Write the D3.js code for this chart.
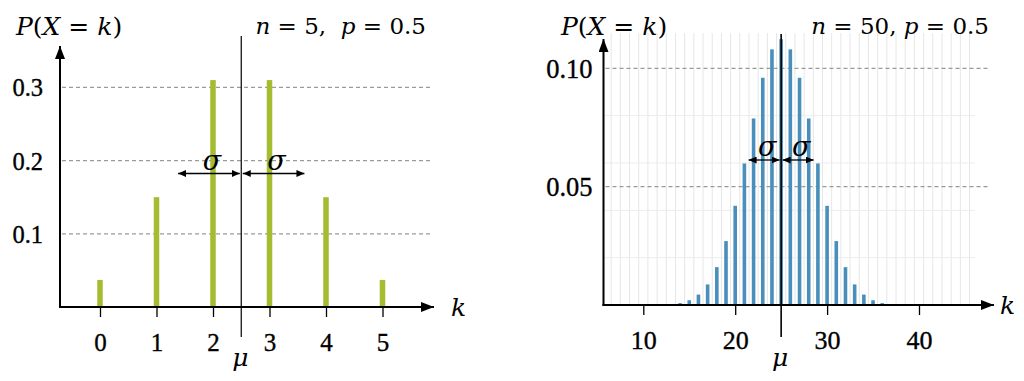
<!DOCTYPE html>
<html>
<head>
<meta charset="utf-8">
<script src="https://cdn.jsdelivr.net/npm/d3@7"></script>
<style>
  html, body { margin: 0; padding: 0; background: #fff; }
  svg { display: block; }
  .num { font-family: "Liberation Serif", serif; fill: #000; stroke: #000; stroke-width: 0.35px; }
  .math { font-family: "DejaVu Serif", serif; fill: #000; white-space: pre; }
</style>
</head>
<body>
<svg id="chart" width="1024" height="381"></svg>
<script>
// ---- data ----
const kLeft = [0, 1, 2, 3, 4, 5];
const pLeft = [0.037, 0.15, 0.31, 0.31, 0.15, 0.037];
const kRight = [12, 13, 14, 15, 16, 17, 18, 19, 20, 21, 22, 23, 24, 25, 26, 27, 28, 29, 30, 31, 32, 33, 34, 35, 36, 37, 38];
const pRight = [0.0001, 0.0003, 0.0008, 0.0020, 0.0044, 0.0087, 0.0160, 0.0270, 0.0419, 0.0598, 0.0788, 0.0960, 0.1080, 0.1123,
                0.1080, 0.0960, 0.0788, 0.0598, 0.0419, 0.0270, 0.0160, 0.0087, 0.0044, 0.0020, 0.0008, 0.0003, 0.0001];
const xTicksLeft = [0, 1, 2, 3, 4, 5];
const yTicksLeft = [0.1, 0.2, 0.3];
const xTicksRight = [10, 20, 30, 40];
const yTicksRight = [0.05, 0.10];
const minorYRight = [0.02, 0.04, 0.06, 0.08];
const minorXRight = d3.range(6.5, 46, 1);
const muLeft = 2.5, sigmaLeft = 1.118;
const muRight = 25, sigmaRight = 3.536;

const svg = d3.select("#chart");

// arrow markers
const defs = svg.append("defs");
function marker(id, w, h) {
  defs.append("marker").attr("id", id).attr("viewBox", `0 0 ${w} ${h}`)
    .attr("refX", w).attr("refY", h / 2).attr("markerWidth", w).attr("markerHeight", h)
    .attr("markerUnits", "userSpaceOnUse").attr("orient", "auto-start-reverse")
    .append("path").attr("d", `M0,0L${w},${h/2}L0,${h}Z`).attr("fill", "#000");
}
marker("bigArrow", 13, 10);
marker("smallArrow", 8, 7);

function mathText(g, x, y, parts, size, anchor) {
  const t = g.append("text").attr("class", "math").attr("x", x).attr("y", y)
    .attr("font-size", size).attr("text-anchor", anchor || "start")
    .attr("xml:space", "preserve");
  parts.forEach(p => {
    t.append("tspan").attr("font-style", p[1] ? "italic" : "normal").text(p[0]);
  });
  return t;
}

function panel(cfg) {
  const g = svg.append("g");
  const x = d3.scaleLinear().domain(cfg.xDomain).range(cfg.xRange);
  const y = d3.scaleLinear().domain(cfg.yDomain).range(cfg.yRange);
  const x0 = cfg.axisX, y0 = y(0);

  // minor grid
  if (cfg.minorX) {
    g.append("g").selectAll("line").data(cfg.minorX).join("line")
      .attr("x1", d => x(d)).attr("x2", d => x(d))
      .attr("y1", cfg.gridTop).attr("y2", y0)
      .attr("stroke", "#e6e6e6").attr("stroke-width", 1);
    g.append("g").selectAll("line").data(cfg.minorY).join("line")
      .attr("x1", x0).attr("x2", cfg.gridRight)
      .attr("y1", d => y(d)).attr("y2", d => y(d))
      .attr("stroke", "#ececec").attr("stroke-width", 1);
  }
  // dashed major grid
  g.append("g").selectAll("line").data(cfg.yTicks).join("line")
    .attr("x1", x0 + 2).attr("x2", cfg.dashRight)
    .attr("y1", d => y(d)).attr("y2", d => y(d))
    .attr("stroke", "#9a9a9a").attr("stroke-width", 1.2).attr("stroke-dasharray", "4,3");

  // bars
  g.append("g").selectAll("rect").data(cfg.k).join("rect")
    .attr("x", d => x(d) - cfg.barW / 2).attr("width", cfg.barW)
    .attr("y", (d, i) => y(cfg.p[i])).attr("height", (d, i) => y0 - y(cfg.p[i]))
    .attr("fill", cfg.color);

  // x axis ticks + labels
  const xa = g.append("g").attr("transform", `translate(0,${y0})`)
    .call(d3.axisBottom(x).tickValues(cfg.xTicks).tickSize(10).tickFormat(d3.format("d")));
  xa.select(".domain").remove();
  xa.selectAll(".tick line").attr("stroke", "#000").attr("stroke-width", 1.3);
  xa.selectAll(".tick text").attr("class", "num").attr("font-size", cfg.xFont)
    .attr("y", cfg.xLabelY - y0).attr("dy", "0.35em").attr("fill", "#000");

  // y axis labels
  const ya = g.append("g").attr("transform", `translate(${x0},0)`)
    .call(d3.axisLeft(y).tickValues(cfg.yTicks).tickSize(0).tickPadding(cfg.yPad).tickFormat(cfg.yFmt));
  ya.select(".domain").remove();
  ya.selectAll(".tick text").attr("class", "num").attr("font-size", cfg.yFont)
    .attr("dy", "0.35em").attr("fill", "#000");

  // mu line
  g.append("line").attr("x1", x(cfg.mu)).attr("x2", x(cfg.mu))
    .attr("y1", cfg.muTop).attr("y2", 337).attr("stroke", "#000").attr("stroke-width", cfg.muW);
  mathText(g, x(cfg.mu) - 1, 357, [["μ", true]], 25, "middle").attr("dy", "0.35em");

  // axes
  g.append("line").attr("x1", x0).attr("x2", x0).attr("y1", y0 + 1).attr("y2", cfg.yTip)
    .attr("stroke", "#000").attr("stroke-width", 2).attr("marker-end", "url(#bigArrow)");
  g.append("line").attr("x1", x0 - 1).attr("x2", cfg.xTip).attr("y1", y0).attr("y2", y0)
    .attr("stroke", "#000").attr("stroke-width", 2).attr("marker-end", "url(#bigArrow)");

  // sigma arrows
  const xm = x(cfg.mu);
  [[-1, xm - 1.5], [1, xm + 1.5]].forEach(([s, start]) => {
    const end = x(cfg.mu + s * cfg.sigma);
    g.append("line").attr("x1", start).attr("x2", end).attr("y1", cfg.sigY).attr("y2", cfg.sigY)
      .attr("stroke", "#000").attr("stroke-width", 1.3)
      .attr("marker-start", "url(#smallArrow)").attr("marker-end", "url(#smallArrow)");
    mathText(g, (start + end) / 2 + 3, cfg.sigY - 13, [["σ", true]], 27, "middle").attr("dy", "0.35em");
  });

  // axis labels & titles
  mathText(g, cfg.kX, y0, [["k", true]], 25, "start").attr("dy", "0.35em");
  mathText(g, cfg.pX, 26, [["P", true], ["(", false], ["X", true], [" = ", false], ["k", true], [")", false]], 25, "start").attr("dy", "0.35em");
  mathText(g, cfg.titleRight, 26, cfg.title, 23, "end").attr("dy", "0.35em");
}

panel({
  k: kLeft, p: pLeft, color: "#a4bc30", barW: 5.5,
  xDomain: [0, 5], xRange: [100, 382.5], yDomain: [0, 0.3], yRange: [307, 87.4],
  axisX: 60, xTip: 434, yTip: 46, dashRight: 433,
  xTicks: xTicksLeft, yTicks: yTicksLeft, xFont: 25, yFont: 24.5, yPad: 17, yFmt: d3.format(".1f"),
  xLabelY: 342, mu: muLeft, sigma: sigmaLeft, muTop: 36, muW: 1.2, sigY: 173.5,
  kX: 451, pX: 16, titleRight: 426,
  title: [["n", true], [" = 5,  ", false], ["p", true], [" = 0.5", false]]
});

panel({
  k: kRight, p: pRight, color: "#4a8fbc", barW: 3.6,
  xDomain: [10, 40], xRange: [643.3, 919], yDomain: [0, 0.1], yRange: [305, 68.3],
  axisX: 603.5, xTip: 994, yTip: 39, dashRight: 990, gridTop: 33, gridRight: 975,
  minorX: minorXRight, minorY: minorYRight,
  xTicks: xTicksRight, yTicks: yTicksRight, xFont: 26, yFont: 26.5, yPad: 11, yFmt: d3.format(".2f"),
  xLabelY: 340, mu: muRight, sigma: sigmaRight, muTop: 34, muW: 1.6, sigY: 160,
  kX: 1000, pX: 561, titleRight: 989,
  title: [["n", true], [" = 50, ", false], ["p", true], [" = 0.5", false]]
});
</script>
</body>
</html>
